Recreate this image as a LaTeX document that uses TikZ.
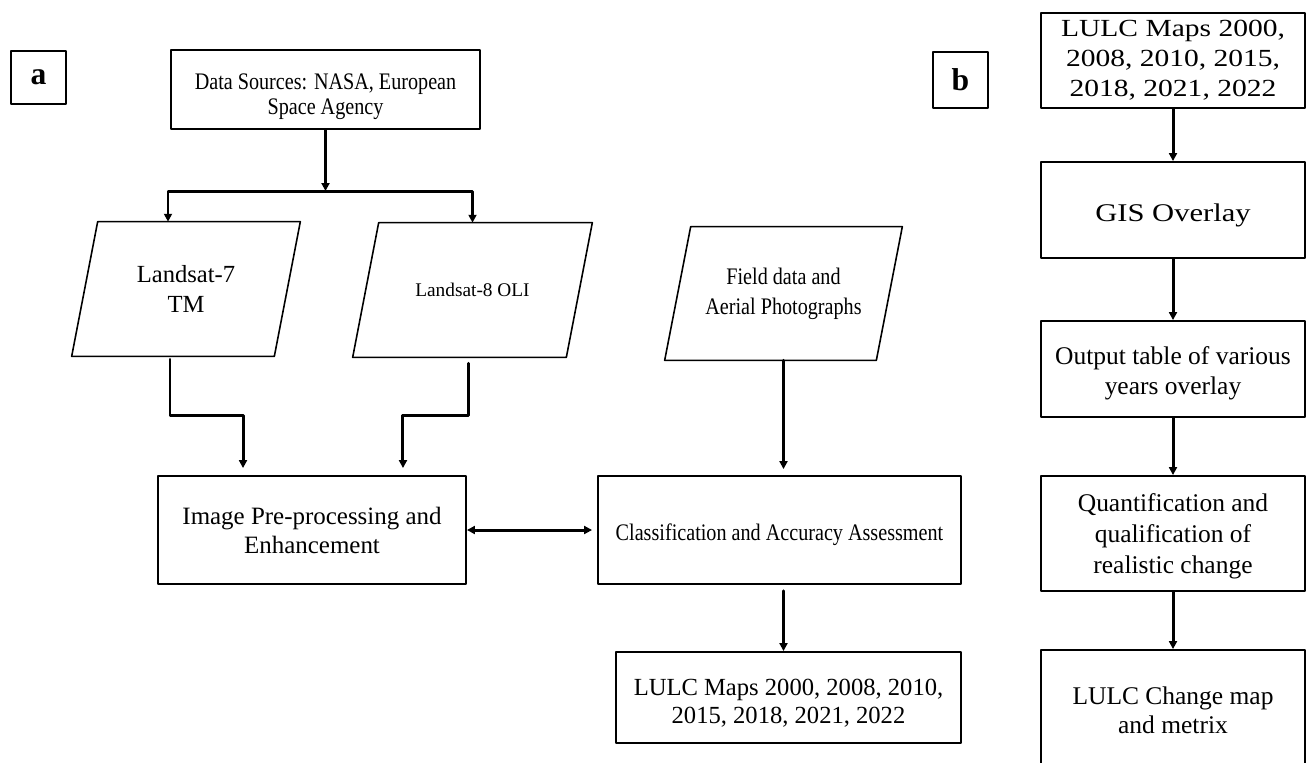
\documentclass[tikz,border=0pt]{standalone}
\usepackage{fontspec}
\usepackage{tikz}
\setmainfont{Liberation Serif}
\newfontfamily\narrowserif[FakeStretch=0.85]{Liberation Serif}
\newfontfamily\wideserif[FakeStretch=1.2]{Liberation Serif}
\usetikzlibrary{calc}
\usetikzlibrary{arrows.meta}
\tikzstyle{procbox}=[draw,line width=1.1pt,align=center,inner sep=0pt,font=\fontsize{14.5}{17.5}\selectfont]
\tikzstyle{inbox}=[align=center,inner sep=0pt,font=\fontsize{14}{17}\selectfont]
\tikzstyle{tag}=[draw,line width=1.2pt,inner sep=0pt,font=\bfseries\fontsize{18}{20}\selectfont]
\tikzstyle{conn}=[line width=1.7pt]

\begin{document}
\begin{tikzpicture}[line cap=round,line join=round,>={Triangle[length=4.5pt,width=4.5pt]},x=0.02cm,y=-0.02cm]
            \useasboundingbox (0,0) rectangle (1308,762);
            \clip (0,0) rectangle (1308,762);
            % panel a
            \node[tag,minimum width=1.10cm,minimum height=1.06cm] (taga) at (38.5,77.5) {a};
            \node[procbox,minimum width=6.18cm,minimum height=1.58cm,text height=31.6pt,font=\narrowserif\fontsize{13.5}{14.5}\selectfont] (src) at (325.5,89.5) {Data Sources: NASA, European\\Space Agency};
            \node[inbox,minimum width=4.56cm,minimum height=2.68cm] (l7) at (186,289) {Landsat-7\\TM};
            \node[inbox,minimum width=4.78cm,minimum height=2.68cm,font=\fontsize{11}{13}\selectfont] (l8) at (472.5,290) {Landsat-8 OLI};
            \node[inbox,minimum width=4.74cm,minimum height=2.66cm,font=\narrowserif\fontsize{13.5}{17}\selectfont] (fd) at (783.5,293.5) {Field data and\\Aerial Photographs};
            \foreach \n in {l7,l8,fd}
              \draw[line width=0.9pt] ([xshift=0.52cm]\n.north west) -- (\n.north east) -- ([xshift=-0.52cm]\n.south east) -- (\n.south west) -- cycle;
            \node[procbox,minimum width=6.16cm,minimum height=2.16cm,font=\fontsize{14.2}{16.5}\selectfont] (ip) at (312,530) {Image Pre-processing and\\Enhancement};
            \node[procbox,minimum width=7.26cm,minimum height=2.16cm,text height=14.8pt,font=\narrowserif\fontsize{13.5}{16}\selectfont] (ca) at (779.5,530) {Classification and Accuracy Assessment};
            \node[procbox,minimum width=6.90cm,minimum height=1.82cm,text height=32.1pt,font=\fontsize{14}{16}\selectfont] (lm) at (788.5,697.5) {LULC Maps 2000, 2008, 2010,\\2015, 2018, 2021, 2022};
            \coordinate (split) at (321,191);
            \draw[conn,->] (src.south) -- (src.south |- split);
            \draw[conn,->] (split) -| ([xshift=-0.36cm]l7.north);
            \draw[conn,->] (split) -| (l8.north);
            \draw[conn,->,shorten <=0.06cm,shorten >=0.14cm] ([xshift=-0.32cm]l7.south) -- ++(0,59) -| ([xshift=-1.38cm]ip.north);
            \draw[conn,->,shorten <=0.12cm,shorten >=0.14cm] ([xshift=-0.09cm]l8.south) -- ++(0,58) -| ([xshift=1.82cm]ip.north);
            \draw[conn,->,shorten >=0.12cm] (fd.south) -- (fd.south |- ca.north);
            \draw[conn,->,shorten <=0.12cm] (fd.south |- ca.south) -- (fd.south |- lm.north);
            \draw[conn,<->,shorten >=0.1cm] (ip.east) -- (ca.west);
            % panel b
            \node[tag,minimum width=1.10cm,minimum height=1.12cm] (tagb) at (960.5,80) {b};
            \node[procbox,minimum width=5.28cm,minimum height=1.90cm,font=\wideserif\fontsize{14}{17}\selectfont] (r1) at (1173,60.5) {LULC Maps 2000,\\2008, 2010, 2015,\\2018, 2021, 2022};
            \node[procbox,minimum width=5.28cm,minimum height=1.92cm,text height=16.7pt,font=\wideserif\fontsize{14.5}{17.5}\selectfont] (r2) at (1173,210) {GIS Overlay};
            \node[procbox,minimum width=5.28cm,minimum height=1.92cm,text height=32.7pt] (r3) at (1173,369) {Output table of various\\years overlay};
            \node[procbox,minimum width=5.28cm,minimum height=2.30cm,text height=48.5pt] (r4) at (1173,533.5) {Quantification and\\qualification of\\realistic change};
            \node[procbox,minimum width=5.28cm,minimum height=2.40cm,font=\fontsize{14.5}{16.5}\selectfont] (r5) at (1173,710) {LULC Change map\\and metrix};
            \foreach \a/\b in {r1/r2,r2/r3,r3/r4,r4/r5}
              \draw[conn,->] (\a.south) -- (\b.north);
\end{tikzpicture}
\end{document}
